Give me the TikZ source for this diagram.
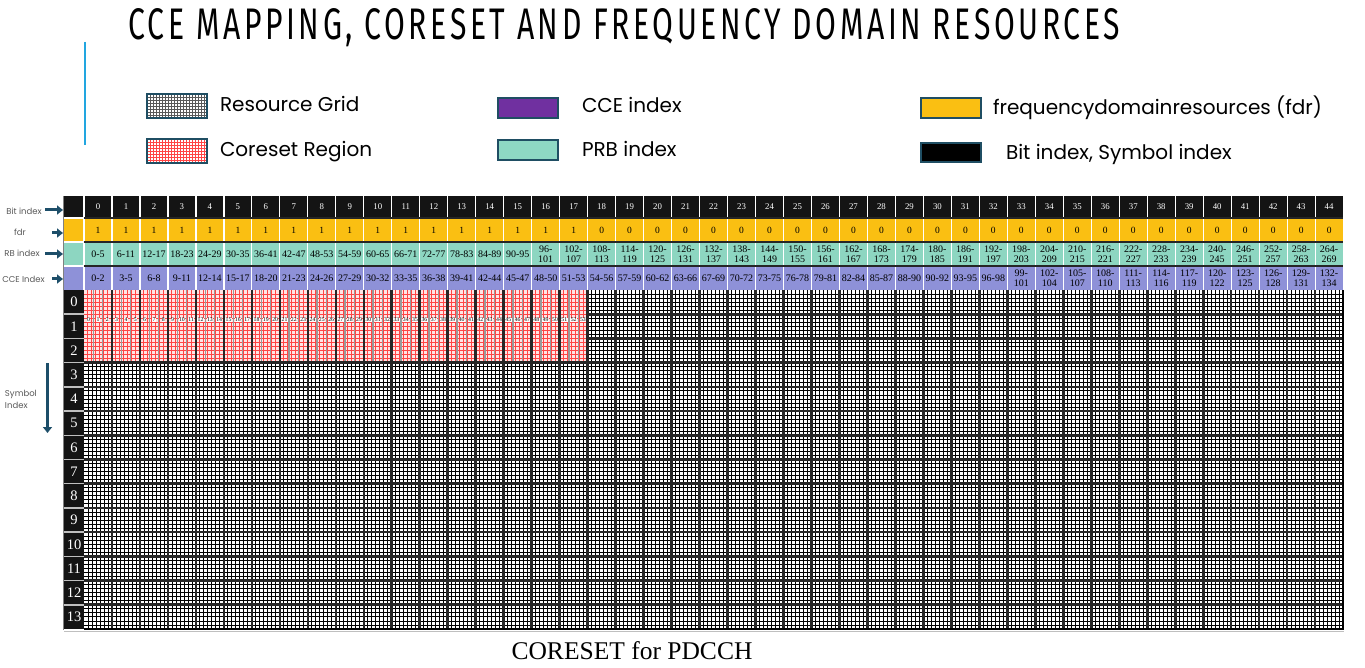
\documentclass[tikz,border=0pt]{standalone}
\usepackage{fontspec}
\setmainfont{Liberation Serif}
\newfontfamily\gothic{Poppins}
\newfontfamily\titlefont[LetterSpace=12]{Fira Sans}
\usetikzlibrary{arrows.meta}
\definecolor{hdrblack}{HTML}{141414}
\definecolor{fdryel}{HTML}{FABF12}
\definecolor{rbteal}{HTML}{8DD6C1}
\definecolor{ccelav}{HTML}{8E91D8}
\definecolor{legpurple}{HTML}{7030A0}
\definecolor{legteal}{HTML}{8ED8C4}
\definecolor{legborder}{HTML}{1F4E63}
\definecolor{arrowteal}{HTML}{1D4E69}
\definecolor{labgray}{HTML}{595959}
\definecolor{gridred}{HTML}{FF4444}
\definecolor{redbg}{HTML}{FFE4E4}
\definecolor{titleblue}{HTML}{22A6E0}
\begin{document}
\begin{tikzpicture}[x=1pt,y=-1pt, every node/.style={inner sep=0pt, outer sep=0pt},
  hdrtxt/.style={font=\fontsize{8.8}{10}\selectfont, align=center},
  fdrtxt/.style={font=\fontsize{9.5}{10}\selectfont, align=center},
  celltxt/.style={font=\fontsize{10}{9.6}\selectfont, align=center},
  symtxt/.style={font=\fontsize{14.5}{15}\selectfont, text=white},
  rowlab/.style={font=\gothic\fontsize{8.5}{12}\selectfont, text=labgray},
  legtxt/.style={font=\gothic\fontsize{20}{22}\selectfont, anchor=base west},
  legbox/.style={draw=legborder, line width=1.8pt},
  ptr/.style={-{Triangle[length=6pt,width=9pt]}, line width=3pt, draw=arrowteal},
  fineline/.style={line width=0.85pt},
  sepline/.style={line width=2.6pt, draw=black!85},
  cceno/.style={font=\fontsize{5.8}{6}\selectfont, fill=white, inner sep=0.3pt}]
\useasboundingbox (0,0) rectangle (1365,668);
\fill[white] (0,0) rectangle (1365,668);

% title
\node[anchor=base west] (title) at (128,39.5) {\resizebox{992pt}{31pt}{\titlefont CCE MAPPING, CORESET AND FREQUENCY DOMAIN RESOURCES}};
\draw[titleblue, line width=2.5pt] (85,42) -- (85,145);

% legend
\fill[white] (147,94) rectangle (207,118);
\draw[black!65, line width=0.7pt] \foreach \k in {1,...,19} {({147+3*\k},94) -- ({147+3*\k},118)} \foreach \k in {1,...,7} {(147,{94+3*\k}) -- (207,{94+3*\k})};
\draw[legbox] (147,94) rectangle (207,118);
\fill[white] (147,139) rectangle (207,163);
\draw[gridred, line width=0.7pt] \foreach \k in {1,...,19} {({147+3*\k},139) -- ({147+3*\k},163)} \foreach \k in {1,...,7} {(147,{139+3*\k}) -- (207,{139+3*\k})};
\draw[legbox] (147,139) rectangle (207,163);
\fill[legpurple, legbox] (498,98) rectangle (558,118);
\fill[legteal, legbox] (498,140) rectangle (558,160);
\fill[fdryel, legbox] (921,98) rectangle (981,118);
\fill[black, legbox] (921,143) rectangle (981,162);
\node[legtxt] (lgrg) at (220,112) {Resource Grid};
\node[legtxt] (lgcr) at (220,157) {Coreset Region};
\node[legtxt] (lgcce) at (582,113) {CCE index};
\node[legtxt] (lgprb) at (582,157) {PRB index};
\node[legtxt] (lgfdr) at (993,115) {frequencydomainresources (fdr)};
\node[legtxt] (lgbit) at (1006,160) {Bit index, Symbol index};

% row labels and arrows
\node[rowlab] (lbit) at (24,211) {Bit index};
\node[rowlab] (lfdr) at (20,232) {fdr};
\node[rowlab] (lrb) at (22,253) {RB index};
\node[rowlab] (lcce) at (23.5,279) {CCE Index};
\node[rowlab, align=left, anchor=west] (lsym) at (5,399) {Symbol\\Index};
\coordinate (pbit0) at (45,210); \coordinate (pbit1) at (63,210);
\coordinate (pfdr0) at (52,233); \coordinate (pfdr1) at (63,233);
\coordinate (prb0) at (45,254); \coordinate (prb1) at (63,254);
\coordinate (pcce0) at (52,279); \coordinate (pcce1) at (63,279);
\coordinate (psym0) at (47.5,363); \coordinate (psym1) at (47.5,433);
\draw[ptr] (pbit0) -- (pbit1);
\draw[ptr] (pfdr0) -- (pfdr1);
\draw[ptr] (prb0) -- (prb1);
\draw[ptr] (pcce0) -- (pcce1);
\draw[ptr] (psym0) -- (psym1);

% header rows
\fill[hdrblack] (64,196) rectangle (1343,218);
\fill[fdryel] (64,218) rectangle (1343,242);
\fill[rbteal] (64,242) rectangle (1343,266);
\fill[ccelav] (64,266) rectangle (1343,290);
\draw[line width=1.2pt, white] \foreach \c in {0,...,44} {({84+\c*27.98},196) -- ({84+\c*27.98},290)};
\draw[line width=1.2pt, black!85] (84,218) -- (1343,218) (84,242) -- (1343,242) (84,266) -- (1343,266);
\draw[line width=1.2pt, white] (64,218) -- (84,218) (64,242) -- (84,242) (64,266) -- (84,266);

\foreach \i in {0,...,44} {
  \pgfmathsetmacro\xc{84+(\i+0.5)*27.98}
  \node[hdrtxt, text=white] (b\i) at (\xc,207) {\i};
  \ifnum\i<18 \def\fv{1}\else\def\fv{0}\fi
  \node[fdrtxt] (f\i) at (\xc,230.5) {\fv};
  \pgfmathtruncatemacro\ra{6*\i}
  \pgfmathtruncatemacro\rb{6*\i+5}
  \ifnum\rb>99 \def\rt{\ra-\\\rb}\else\def\rt{\ra-\rb}\fi
  \node[celltxt] (r\i) at (\xc,254) {\rt};
}
\foreach \t [count=\i from 0] in {0-2,3-5,6-8,9-11,12-14,15-17,18-20,21-23,24-26,27-29,30-32,33-35,36-38,39-41,42-44,45-47,48-50,51-53,54-56,57-59,60-62,63-66,67-69,70-72,73-75,76-78,79-81,82-84,85-87,88-90,90-92,93-95,96-98,{99-\\101},{102-\\104},{105-\\107},{108-\\110},{111-\\113},{114-\\116},{117-\\119},{120-\\122},{123-\\125},{126-\\128},{129-\\131},{132-\\134}} {
  \pgfmathsetmacro\xc{84+(\i+0.5)*27.98}
  \node[celltxt] (e\i) at (\xc,278) {\t};
}

% resource grid
\draw[fineline, black] \foreach \k in {1,...,314} {({84+\k*3.99714},290) -- ({84+\k*3.99714},629)};
\draw[fineline, black] \foreach \k in {1,...,83} {(84,{290+\k*4.03571}) -- (1343,{290+\k*4.03571})};
% coreset region
\fill[redbg] (84,290) rectangle (587.64,362.64);
\draw[line width=1pt, gridred] \foreach \k in {1,...,125} {({84+\k*3.99714},290) -- ({84+\k*3.99714},362.64)} \foreach \k in {1,...,17} {(84,{290+\k*4.03571}) -- (587.64,{290+\k*4.03571})};
\draw[line width=1.4pt, black!40] \foreach \c in {0,...,17} {({84+(\c+1/3)*27.98},290) -- ({84+(\c+1/3)*27.98},362.64) ({84+(\c+2/3)*27.98},290) -- ({84+(\c+2/3)*27.98},362.64)};
\draw[sepline] \foreach \c in {1,...,44} {({84+\c*27.98},290) -- ({84+\c*27.98},629)};
\draw[sepline] \foreach \r in {3,...,13} {(84,{290+\r*24.2143}) -- (1343,{290+\r*24.2143})};
\draw[sepline] \foreach \r in {1,2} {(587.64,{290+\r*24.2143}) -- (1343,{290+\r*24.2143})};
\draw[line width=2.6pt, black] (1343,290) -- (1343,629) -- (84,629);
\draw[black!25, line width=1pt] (64,631.8) -- (1344,631.8);

\foreach \c in {0,...,17} {
  \foreach \m in {0,1,2} {
    \pgfmathtruncatemacro\nn{3*\c+\m}
    \node[cceno] (n\nn) at ({84+\c*27.98+(2*\m+1)*27.98/6},320) {\nn};
  }
}

% symbol index column
\fill[hdrblack] (64,290) rectangle (84,629);
\draw[line width=1.5pt, black!25] \foreach \r in {1,...,13} {(64,{290+\r*24.2143}) -- (84,{290+\r*24.2143})};
\foreach \r in {0,...,13} {
  \node[symtxt] (s\r) at (74,{290+(\r+0.5)*24.2143}) {\r};
}
\fill[hdrblack] (64.5,196) rectangle (83.4,217.4);
\draw[black!50, line width=0.8pt] (63.6,196) -- (63.6,630);

% caption
\node[font=\fontsize{25.5}{28}\selectfont, anchor=base] (cap) at (632,659) {CORESET for PDCCH};
\end{tikzpicture}
\end{document}
